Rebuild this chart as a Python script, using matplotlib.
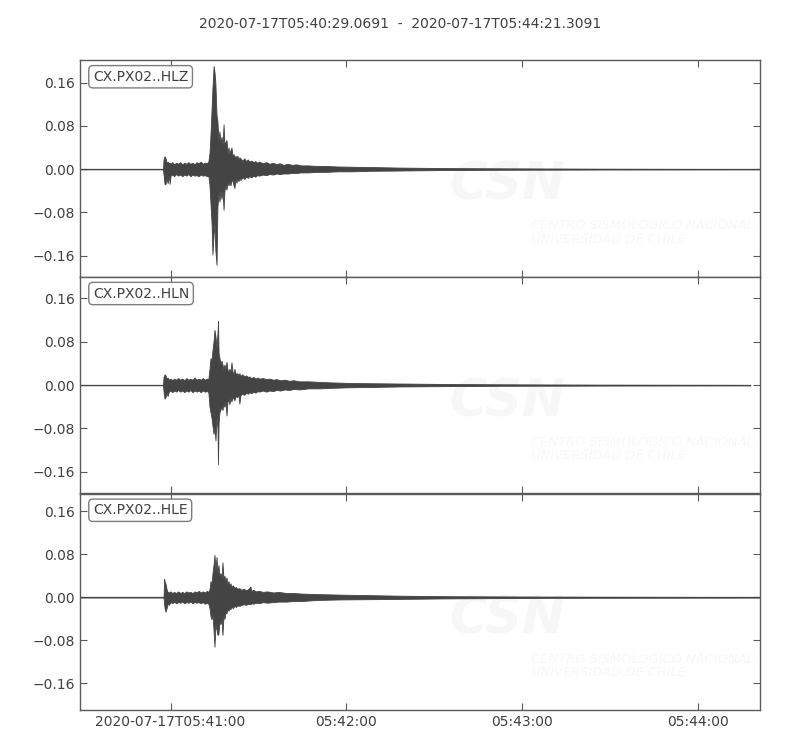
import numpy as np
import matplotlib
matplotlib.use("Agg")
import matplotlib.pyplot as plt

# seconds after 2020-07-17T05:40:00
t_start = 29.0691
t_end = 261.3091

title = "2020-07-17T05:40:29.0691  -  2020-07-17T05:44:21.3091"
labels = ["CX.PX02..HLZ", "CX.PX02..HLN", "CX.PX02..HLE"]

x_ticks = [60, 120, 180, 240]
x_ticklabels = ["2020-07-17T05:41:00", "05:42:00", "05:43:00", "05:44:00"]
y_ticks = [-0.16, -0.08, 0.0, 0.08, 0.16]
y_ticklabels = ["\u22120.16", "\u22120.08", "0.00", "0.08", "0.16"]
y_limits = [(-0.199, 0.202), (-0.2, 0.2), (-0.21, 0.193)]

# envelope: (time, upper, lower)
hlz = [(29.07, 0, 0), (57.4, 0, 0), (57.6, 0.018, -0.010), (57.95, 0.024, -0.028),
       (58.3, 0.020, -0.027), (58.65, 0.012, -0.016), (59.0, 0.014, -0.026),
       (59.4, 0.011, -0.012), (59.7, 0.012, -0.027), (60.0, 0.010, -0.012),
       (60.6, 0.013, -0.010), (61.2, 0.009, -0.013), (61.9, 0.012, -0.009),
       (62.6, 0.010, -0.012), (63.3, 0.013, -0.010), (64.0, 0.009, -0.013),
       (64.7, 0.012, -0.010), (65.4, 0.010, -0.012), (66.1, 0.013, -0.009),
       (66.8, 0.010, -0.013), (67.5, 0.012, -0.010), (68.2, 0.009, -0.012),
       (68.9, 0.013, -0.011), (69.6, 0.011, -0.013), (70.3, 0.014, -0.010),
       (71.0, 0.010, -0.012), (71.7, 0.012, -0.011), (72.4, 0.011, -0.013),
       (72.9, 0.014, -0.012), (73.3, 0.030, -0.030), (73.6, 0.060, -0.060),
       (74.0, 0.110, -0.100), (74.3, 0.150, -0.158), (74.7, 0.191, -0.120),
       (75.0, 0.180, -0.100), (75.3, 0.160, -0.150), (75.7, 0.100, -0.177),
       (76.0, 0.090, -0.070), (76.35, 0.055, -0.045), (76.7, 0.070, -0.060),
       (77.05, 0.050, -0.040), (77.4, 0.060, -0.055), (77.75, 0.045, -0.040),
       (78.1, 0.083, -0.075), (78.4, 0.045, -0.040), (78.75, 0.050, -0.030),
       (79.1, 0.054, -0.038), (79.45, 0.030, -0.025), (79.8, 0.040, -0.030),
       (80.1, 0.028, -0.022), (80.45, 0.035, -0.030), (80.8, 0.040, -0.022),
       (81.15, 0.025, -0.020), (81.5, 0.028, -0.030), (81.8, 0.022, -0.035),
       (82.2, 0.025, -0.018), (82.5, 0.020, -0.025), (82.8, 0.025, -0.018),
       (83.2, 0.018, -0.022), (83.5, 0.022, -0.017), (83.9, 0.020, -0.020),
       (84.5, 0.016, -0.015), (85.2, 0.020, -0.018), (85.8, 0.015, -0.014),
       (86.4, 0.018, -0.016), (86.9, 0.014, -0.013), (87.6, 0.016, -0.015),
       (88.3, 0.013, -0.012), (88.9, 0.015, -0.014), (89.6, 0.012, -0.011),
       (90.3, 0.014, -0.012), (91.5, 0.011, -0.010), (92.7, 0.013, -0.011),
       (93.8, 0.010, -0.009), (95.0, 0.012, -0.010), (96.2, 0.009, -0.008),
       (97.2, 0.011, -0.009), (98.5, 0.008, -0.008), (100.0, 0.010, -0.008),
       (101.5, 0.008, -0.007), (103.0, 0.009, -0.007), (104.5, 0.007, -0.006),
       (107.0, 0.007, -0.006), (110.0, 0.006, -0.005), (113.0, 0.006, -0.005),
       (117.0, 0.005, -0.004), (122.0, 0.0045, -0.004), (128.0, 0.004, -0.003),
       (138.0, 0.003, -0.0025), (146.0, 0.0025, -0.002), (155.0, 0.002, -0.0015),
       (175.0, 0.0015, -0.001), (206.0, 0.0008, -0.0006), (261.3, 0.0003, -0.0003)]

hln = [(29.07, 0, 0), (57.4, 0, 0), (57.6, 0.015, -0.012), (57.95, 0.020, -0.025),
       (58.3, 0.018, -0.022), (58.65, 0.012, -0.015), (59.0, 0.014, -0.020),
       (59.4, 0.010, -0.012), (60.0, 0.012, -0.010), (60.6, 0.009, -0.013),
       (61.2, 0.012, -0.010), (61.9, 0.010, -0.012), (62.6, 0.013, -0.009),
       (63.3, 0.010, -0.012), (64.0, 0.012, -0.010), (64.7, 0.009, -0.013),
       (65.4, 0.013, -0.010), (66.1, 0.010, -0.012), (66.8, 0.012, -0.009),
       (67.5, 0.010, -0.013), (68.2, 0.014, -0.010), (68.9, 0.010, -0.012),
       (69.6, 0.012, -0.010), (70.3, 0.010, -0.013), (71.0, 0.013, -0.010),
       (71.7, 0.010, -0.012), (72.4, 0.012, -0.011), (72.9, 0.011, -0.013),
       (73.3, 0.030, -0.040), (73.64, 0.050, -0.050), (73.98, 0.045, -0.060),
       (74.32, 0.065, -0.075), (74.66, 0.080, -0.090), (75.0, 0.102, -0.080),
       (75.34, 0.090, -0.102), (75.7, 0.070, -0.060), (76.02, 0.095, -0.080),
       (76.2, 0.118, -0.146), (76.4, 0.060, -0.070), (76.7, 0.050, -0.050),
       (77.05, 0.040, -0.045), (77.4, 0.045, -0.040), (77.73, 0.038, -0.046),
       (78.07, 0.030, -0.035), (78.4, 0.038, -0.040), (78.75, 0.030, -0.030),
       (79.1, 0.043, -0.056), (79.45, 0.028, -0.030), (79.8, 0.025, -0.028),
       (80.1, 0.030, -0.035), (80.45, 0.024, -0.025), (80.8, 0.042, -0.030),
       (81.15, 0.025, -0.022), (81.5, 0.020, -0.025), (81.8, 0.030, -0.028),
       (82.3, 0.020, -0.020), (82.8, 0.022, -0.022), (83.2, 0.018, -0.018),
       (83.5, 0.022, -0.034), (83.9, 0.017, -0.018), (84.5, 0.020, -0.016),
       (85.2, 0.016, -0.018), (85.8, 0.018, -0.014), (86.4, 0.015, -0.016),
       (86.9, 0.016, -0.013), (87.6, 0.013, -0.015), (88.3, 0.015, -0.012),
       (89.0, 0.012, -0.014), (89.7, 0.014, -0.011), (90.3, 0.012, -0.012),
       (91.5, 0.013, -0.010), (92.7, 0.011, -0.012), (93.8, 0.012, -0.010),
       (95.0, 0.010, -0.011), (96.2, 0.011, -0.009), (97.5, 0.009, -0.010),
       (99.0, 0.010, -0.008), (100.5, 0.008, -0.009), (102.0, 0.009, -0.007),
       (104.0, 0.007, -0.008), (107.0, 0.007, -0.006), (110.8, 0.006, -0.006),
       (115.0, 0.005, -0.005), (121.0, 0.004, -0.004), (128.0, 0.0035, -0.0035),
       (138.0, 0.003, -0.0025), (155.0, 0.002, -0.0018), (172.0, 0.0015, -0.0012),
       (206.0, 0.0008, -0.0008), (258.0, 0.0004, -0.0004)]

hle = [(29.07, 0, 0), (57.6, 0, 0), (57.8, 0.034, -0.012), (57.95, 0.030, -0.020),
       (58.3, 0.025, -0.027), (58.65, 0.015, -0.020), (59.0, 0.010, -0.012),
       (59.4, 0.009, -0.014), (60.0, 0.011, -0.009), (60.6, 0.008, -0.011),
       (61.2, 0.010, -0.008), (61.9, 0.008, -0.011), (62.6, 0.011, -0.009),
       (63.3, 0.008, -0.010), (64.0, 0.010, -0.008), (64.7, 0.008, -0.011),
       (65.4, 0.011, -0.009), (66.1, 0.009, -0.010), (66.8, 0.010, -0.008),
       (67.5, 0.008, -0.011), (68.2, 0.011, -0.009), (68.9, 0.009, -0.010),
       (69.6, 0.012, -0.009), (70.3, 0.009, -0.011), (71.0, 0.011, -0.009),
       (71.7, 0.009, -0.012), (72.4, 0.012, -0.010), (72.9, 0.010, -0.012),
       (73.3, 0.015, -0.020), (73.64, 0.030, -0.035), (73.98, 0.025, -0.041),
       (74.32, 0.045, -0.030), (74.66, 0.060, -0.060), (75.0, 0.079, -0.092),
       (75.34, 0.050, -0.050), (75.7, 0.075, -0.060), (76.02, 0.045, -0.070),
       (76.36, 0.060, -0.068), (76.7, 0.040, -0.045), (77.05, 0.045, -0.050),
       (77.4, 0.035, -0.040), (77.73, 0.065, -0.070), (78.07, 0.035, -0.035),
       (78.4, 0.040, -0.040), (78.75, 0.030, -0.028), (79.1, 0.037, -0.030),
       (79.45, 0.025, -0.022), (79.8, 0.030, -0.025), (80.1, 0.022, -0.020),
       (80.45, 0.026, -0.022), (80.8, 0.020, -0.018), (81.3, 0.022, -0.020),
       (81.8, 0.018, -0.016), (82.3, 0.019, -0.018), (82.8, 0.016, -0.015),
       (83.5, 0.017, -0.016), (84.2, 0.014, -0.014), (85.0, 0.016, -0.013),
       (85.8, 0.013, -0.014), (86.5, 0.015, -0.012), (87.27, 0.020, -0.013),
       (87.6, 0.012, -0.011), (88.3, 0.014, -0.012), (89.0, 0.011, -0.010),
       (90.3, 0.012, -0.011), (91.5, 0.010, -0.009), (93.0, 0.011, -0.010),
       (95.0, 0.009, -0.009), (97.0, 0.010, -0.008), (99.5, 0.008, -0.008),
       (102.0, 0.008, -0.007), (104.5, 0.007, -0.007), (110.0, 0.006, -0.005),
       (117.6, 0.005, -0.004), (128.0, 0.004, -0.0035), (138.0, 0.003, -0.003),
       (155.0, 0.002, -0.002), (189.0, 0.0012, -0.001), (261.3, 0.0005, -0.0005)]

traces = [hlz, hln, hle]

trace_color = "#444444"
frame_color = "#5a5a5a"
text_color = "#404040"
mark_color = "#f7f7f7"

fig, axes = plt.subplots(3, 1, figsize=(8, 7.5), dpi=100, sharex=True)
fig.subplots_adjust(left=0.1, right=0.95, top=0.92, bottom=0.053, hspace=0)

for ax, rows, lab, ylim in zip(axes, traces, labels, y_limits):
    t, up, lo = np.array(rows).T

    # faint CSN watermark
    ax.text(0.628, 0.42, "CSN", transform=ax.transAxes, fontsize=37, fontstyle="italic",
            fontweight="bold", color=mark_color, ha="center", va="center", zorder=0,
            clip_on=True)
    ax.text(0.663, 0.205, "CENTRO SISMOL\u00d3GICO NACIONAL\nUNIVERSIDAD DE CHILE",
            transform=ax.transAxes, fontsize=9.4, fontstyle="italic", color=mark_color,
            ha="left", va="center", linespacing=1.05, zorder=0, clip_on=True)

    ax.fill_between(t, lo, up, color=trace_color, lw=0.6, edgecolor=trace_color, zorder=2)
    ax.plot(t, np.zeros(len(t)), color=trace_color, lw=0.9, zorder=2)

    ax.set_xlim(t_start, t_end)
    ax.set_ylim(*ylim)
    ax.set_yticks(y_ticks)
    ax.set_yticklabels(y_ticklabels)
    ax.set_xticks(x_ticks)
    ax.tick_params(direction="in", top=True, right=True, length=5, width=0.8,
                   colors=frame_color, labelcolor=text_color, labelsize=10)
    for sp in ax.spines.values():
        sp.set_color(frame_color)
        sp.set_linewidth(1.0)

    ax.text(0.019, 0.955, lab, transform=ax.transAxes, fontsize=10, color=text_color,
            ha="left", va="top",
            bbox=dict(boxstyle="round", fc="w", ec="#707070", alpha=0.9))

axes[-1].set_xticklabels(x_ticklabels)
fig.suptitle(title, y=0.977, fontsize=10, color=text_color)

fig.savefig("out.png", dpi=100)
